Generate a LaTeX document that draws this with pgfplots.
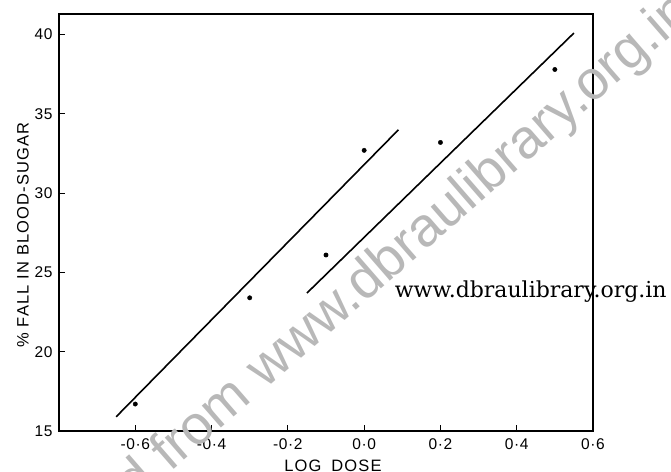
\documentclass[border=0pt]{standalone}
\usepackage{fontspec}
\setmainfont{Liberation Sans}
\newfontfamily\wmserif{DejaVu Serif}
\newfontfamily\spaced[LetterSpace=7]{Liberation Sans}
\newfontfamily\tickfont[LetterSpace=4]{Liberation Sans}
\usepackage{pgfplots}
\pgfplotsset{compat=1.18}
\begin{document}
\begin{tikzpicture}
\begin{axis}[
  scale only axis,
  width=534pt, height=417pt,
  xmin=-0.8, xmax=0.6, ymin=15, ymax=41.3,
  axis line style={line width=1.4pt},
  xtick={-0.6,-0.4,-0.2,0,0.2,0.4,0.6},
  xticklabels={-0·6,-0·4,-0·2,0·0,0·2,0·4,0·6},
  ytick={15,20,25,30,35,40},
  yticklabels={15,20,25,30,35,40},
  tick align=inside, xtick pos=bottom, ytick pos=left,
  major tick length=6pt,
  tick style={line width=1pt, black},
  ticklabel style={font=\tickfont\fontsize{15.5}{17}\selectfont},
  yticklabel style={xshift=-3pt},
  xticklabel style={yshift=-4pt},
  clip=false,
]
\node[overlay, rotate=41, anchor=base west, inner sep=0, text=black!28,
  font=\fontsize{55}{62}\selectfont] at (axis cs:-0.26,17.6) {www.dbraulibrary.org.in};
\node[overlay, rotate=41, anchor=base east, inner sep=0, text=black!28,
  font=\fontsize{55}{62}\selectfont] at (axis cs:-0.26,17.6) {Downloaded from\kern0.28em};
\addplot[line width=1.6pt] coordinates {(-0.65,15.9) (0.09,34.0)};
\addplot[line width=1.6pt] coordinates {(-0.15,23.7) (0.55,40.1)};
\addplot[only marks, mark=*, mark size=2.2pt] coordinates {
  (-0.6,16.7) (-0.3,23.4) (-0.1,26.1) (0.0,32.7) (0.2,33.2) (0.5,37.8)};
\node[anchor=west, inner sep=0, font=\wmserif\fontsize{22}{25}\selectfont]
  at (axis cs:0.08,23.8) {www.dbraulibrary.org.in};
\node[rotate=90, font=\spaced\fontsize{16.5}{18}\selectfont]
  at ([xshift=-36pt]rel axis cs:0,0.47) {\% FALL IN BLOOD-SUGAR};
\node[font=\spaced\fontsize{16.5}{18}\selectfont]
  at ([yshift=-35pt]rel axis cs:0.513,0) {LOG\hspace{0.6em}DOSE};
\coordinate (tl) at (rel axis cs:0,1);
\end{axis}
\pgfresetboundingbox
\path ([xshift=-59pt,yshift=14pt]tl) rectangle ++(671pt,-471pt);
\end{tikzpicture}
\end{document}
